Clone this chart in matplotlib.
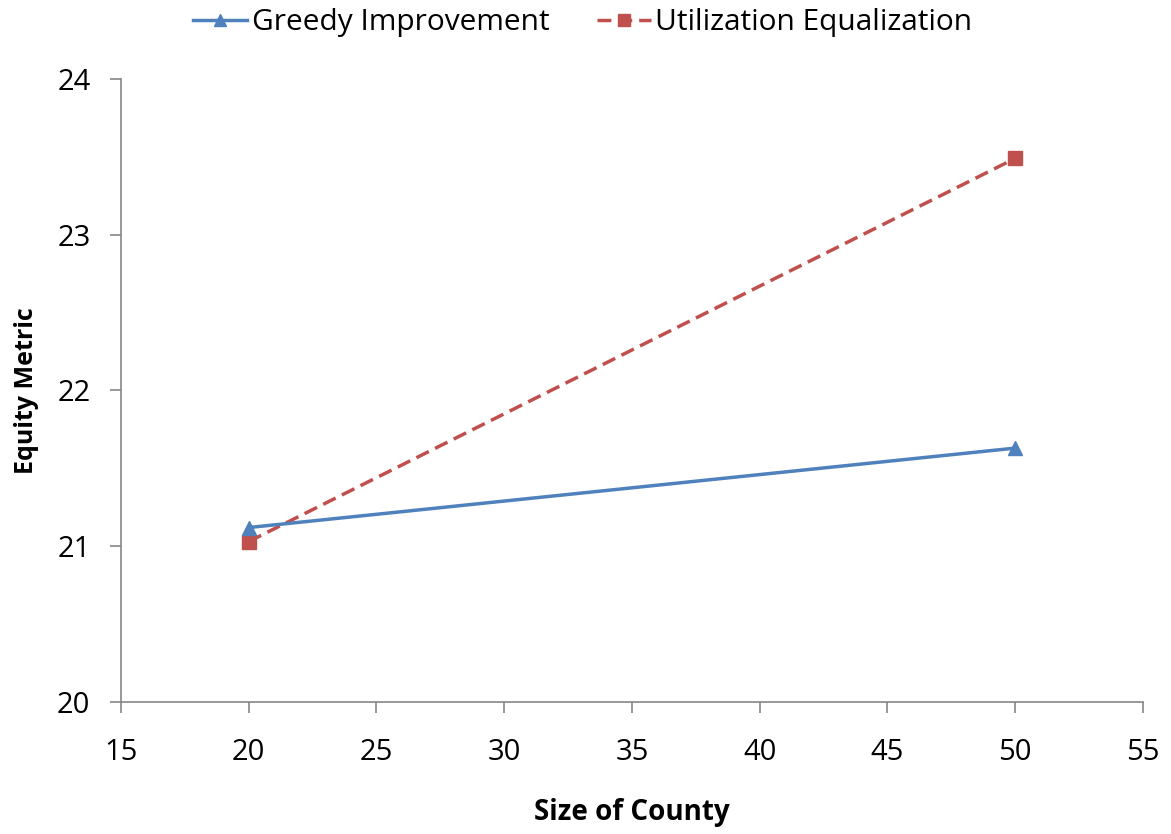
import numpy as np
import matplotlib
matplotlib.use("Agg")
import matplotlib.pyplot as plt

plt.rcParams['font.family'] = ['Open Sans', 'DejaVu Sans']

# data
county_size = [20, 50]
greedy = [21.12, 21.63]
utilization = [21.03, 23.49]

fig = plt.figure(figsize=(11.71, 8.34), dpi=100)
ax = fig.add_axes([0.1033, 0.1583, 0.8727, 0.747])

ax.plot(county_size, greedy, color='#4F81BD', lw=2.5, marker='^', ms=10,
        label='Greedy Improvement', zorder=3)
ax.plot(county_size, utilization, color='#C0504D', lw=2.5, ls=(0, (4, 2)),
        marker='s', ms=10, label='Utilization Equalization', zorder=2)

ax.set_xlim(15, 55)
ax.set_ylim(20, 24)
ax.set_xticks(np.arange(15, 56, 5))
ax.set_yticks(np.arange(20, 25, 1))

for s in ['top', 'right']:
    ax.spines[s].set_visible(False)
for s in ['left', 'bottom']:
    ax.spines[s].set_color('#868686')
    ax.spines[s].set_linewidth(1.2)
ax.tick_params(axis='both', colors='#868686', labelcolor='black',
               labelsize=21, length=8, width=1.2, direction='out')
ax.tick_params(axis='x', pad=18)
ax.tick_params(axis='y', pad=14)

ax.set_xlabel('Size of County', fontsize=20, fontweight='bold', labelpad=22)
ax.set_ylabel('Equity Metric', fontsize=18, fontweight='bold', labelpad=13)

ax.legend(loc='upper center', bbox_to_anchor=(0.452, 1.157), ncol=2,
          frameon=False, fontsize=21.5, handlelength=1.8, columnspacing=1.6,
          handletextpad=0.15, markerscale=0.9)

fig.savefig('out.png', dpi=100)
